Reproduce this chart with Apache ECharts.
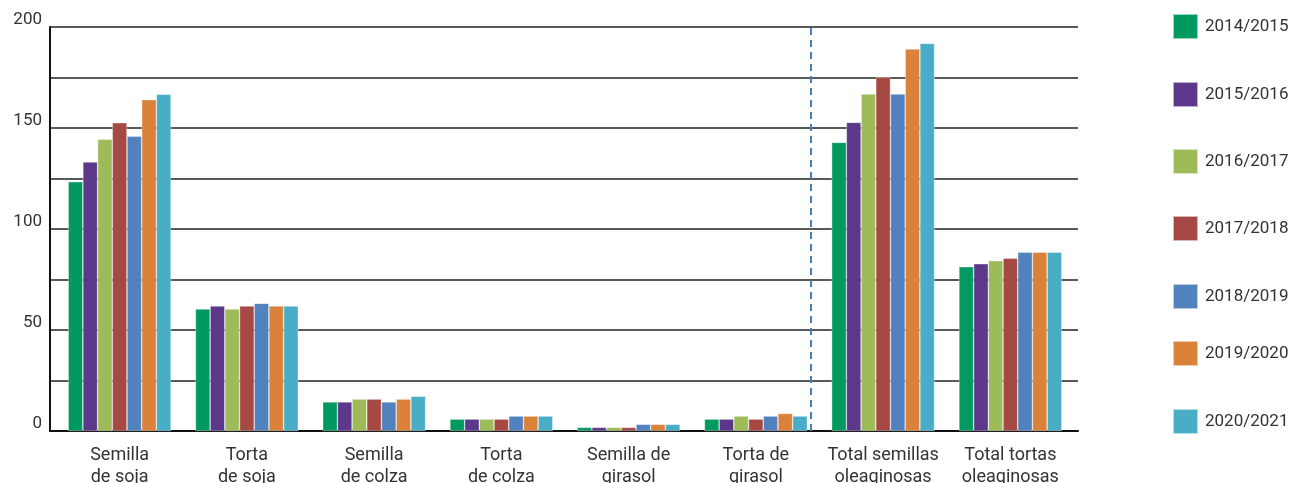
<!DOCTYPE html>
<html><head><meta charset="utf-8">
<script src="https://cdn.jsdelivr.net/npm/echarts@6/dist/echarts.min.js"></script>
<style>html,body{margin:0;padding:0;background:#fff}#c{width:1290px;height:483px}</style>
</head><body><div id="c"></div>
<script>
const categories = ['Semilla\nde soja','Torta\nde soja','Semilla\nde colza','Torta\nde colza','Semilla de\ngirasol','Torta de\ngirasol','Total semillas\noleaginosas','Total tortas\noleaginosas'];
const seasons = ['2014/2015','2015/2016','2016/2017','2017/2018','2018/2019','2019/2020','2020/2021'];
const v2014 = [123.4, 60.4, 14.4, 5.9, 1.8, 5.9, 142.9, 81.3];
const v2015 = [133.2, 61.9, 14.4, 5.9, 1.8, 5.9, 152.8, 82.8];
const v2016 = [144.4, 60.4, 15.8, 5.9, 1.8, 7.4, 166.8, 84.3];
const v2017 = [152.6, 61.9, 15.8, 5.9, 1.8, 5.9, 175.1, 85.6];
const v2018 = [145.9, 63.2, 14.4, 7.4, 3.3, 7.4, 166.8, 88.5];
const v2019 = [164.0, 61.9, 15.8, 7.4, 3.3, 8.7, 189.1, 88.5];
const v2020 = [166.7, 61.9, 17.2, 7.4, 3.3, 7.4, 191.9, 88.5];
const seriesValues = [v2014, v2015, v2016, v2017, v2018, v2019, v2020];
const colors = ['#00995F','#5B388A','#9DBB59','#A64944','#5182BE','#DB823A','#4AADC7'];
const yTicks = [0, 50, 100, 150, 200];
const separatorAt = 5.43;

const FONT = 'Roboto';
const legendTops = [13, 81, 148, 215, 283, 340, 408];

const chart = echarts.init(document.getElementById('c'), null, {renderer:'canvas'});
const series = seasons.map((s, i) => ({
  name: s, type: 'bar', xAxisIndex: 1, yAxisIndex: 1,
  data: seriesValues[i], barWidth: 14.7, barGap: '0%',
  itemStyle: {color: colors[i], borderColor: 'rgba(255,255,255,0.6)', borderWidth: 0.6},
  emphasis: {disabled: true}, animation: false
}));
series.push({
  type: 'line', xAxisIndex: 2, yAxisIndex: 1, data: [], silent: true, animation: false,
  markLine: {symbol: 'none', silent: true, label: {show: false},
    lineStyle: {color: '#4A7EBB', type: [7, 5], width: 2},
    data: [{xAxis: separatorAt}]}
});
chart.setOption({
  animation: false,
  grid: [
    {left: 50, right: 212, top: 27, bottom: 52, containLabel: false, outerBoundsMode: 'none'},
    {left: 56, right: 216, top: 27, bottom: 52, containLabel: false, outerBoundsMode: 'none'}
  ],
  xAxis: [
    {gridIndex: 0, type: 'value', min: 0, max: 1, axisLabel: {show: false}, axisTick: {show: false}, splitLine: {show: false},
     axisLine: {show: true, lineStyle: {color: '#111', width: 2}}},
    {gridIndex: 1, type: 'category', data: categories, axisLine: {show: false}, axisTick: {show: false},
     axisLabel: {interval: 0, margin: 13, fontFamily: FONT, fontSize: 18, color: '#333', lineHeight: 22}},
    {gridIndex: 1, type: 'value', min: -0.5, max: 7.5, show: false}
  ],
  yAxis: [
    {gridIndex: 0, type: 'value', min: 0, max: 200, interval: 25,
     axisLine: {show: true, lineStyle: {color: '#111', width: 2}}, axisTick: {show: false},
     splitLine: {lineStyle: {color: '#222', width: 1.5}},
     axisLabel: {margin: 8, fontFamily: FONT, fontSize: 17, color: '#333', verticalAlign: 'bottom', lineHeight: 14,
       formatter: v => yTicks.includes(v) ? String(v) : ''}},
    {gridIndex: 1, type: 'value', min: 0, max: 200, show: false}
  ],
  legend: seasons.map((s, i) => ({
    data: [s], left: 1172, top: legendTops[i], itemWidth: 25, itemHeight: 25, itemGap: 0,
    textStyle: {fontFamily: FONT, fontSize: 17, color: '#333', padding: [0,0,0,2]},
    selectedMode: false, icon: 'rect', padding: 0
  })),
  series: series
});
</script></body></html>
